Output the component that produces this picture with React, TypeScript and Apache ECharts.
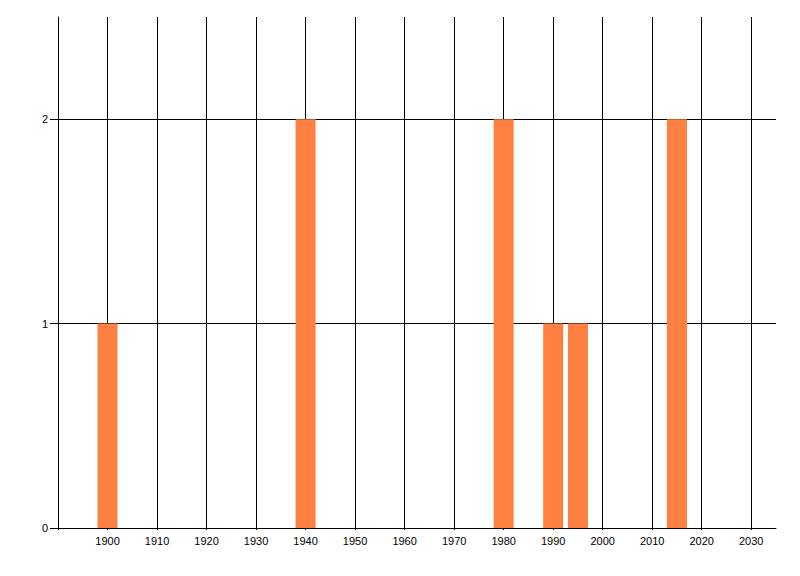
import React, { useEffect, useRef } from "react";
import * as echarts from "echarts";

const years = [1900, 1940, 1980, 1990, 1995, 2015];
const counts = [1, 2, 2, 1, 1, 2];
const xGridTicks = [1890, 1900, 1910, 1920, 1930, 1940, 1950, 1960, 1970, 1980, 1990, 2000, 2010, 2020, 2030];
const xLabelTicks = [1900, 1910, 1920, 1930, 1940, 1950, 1960, 1970, 1980, 1990, 2000, 2010, 2020, 2030];
const yTicks = [0, 1, 2];

export default function App() {
  const ref = useRef<HTMLDivElement>(null);
  useEffect(() => {
    if (!ref.current) return;
    const chart = echarts.init(ref.current, null, { renderer: "svg" });
    const font = { fontFamily: "Liberation Sans", fontSize: 11, color: "#000" };
    chart.setOption({
      animation: false,
      backgroundColor: "#fff",
      grid: { left: 58, right: 24, top: 17, bottom: 48, containLabel: false },
      xAxis: {
        type: "value",
        min: 1890,
        max: 2035,
        interval: 10,
        axisLine: { show: true, lineStyle: { color: "#000", width: 1 } },
        axisTick: { show: true, length: 2, customValues: xGridTicks, lineStyle: { color: "#000" } },
        axisLabel: { ...font, margin: 7, customValues: xLabelTicks, formatter: (v: number) => String(v) },
        splitLine: { show: true, lineStyle: { color: "#000", width: 1 } },
      },
      yAxis: {
        type: "value",
        min: 0,
        max: 2.5,
        interval: 1,
        axisLine: { show: true, lineStyle: { color: "#000", width: 1 } },
        axisTick: { show: true, length: 8, customValues: yTicks, lineStyle: { color: "#000" } },
        axisLabel: { ...font, margin: 10, customValues: yTicks, formatter: (v: number) => String(v) },
        splitLine: { show: true, lineStyle: { color: "#000", width: 1 } },
      },
      series: [
        {
          type: "bar",
          data: years.map((y, i) => [y, counts[i]]),
          barWidth: 20,
          itemStyle: { color: "#FF8040" },
          z: 5,
        },
      ],
    });
    return () => chart.dispose();
  }, []);
  return (
    <div
      ref={ref}
      style={{ position: "fixed", left: 0, top: 0, width: 800, height: 576, background: "#fff" }}
    />
  );
}
